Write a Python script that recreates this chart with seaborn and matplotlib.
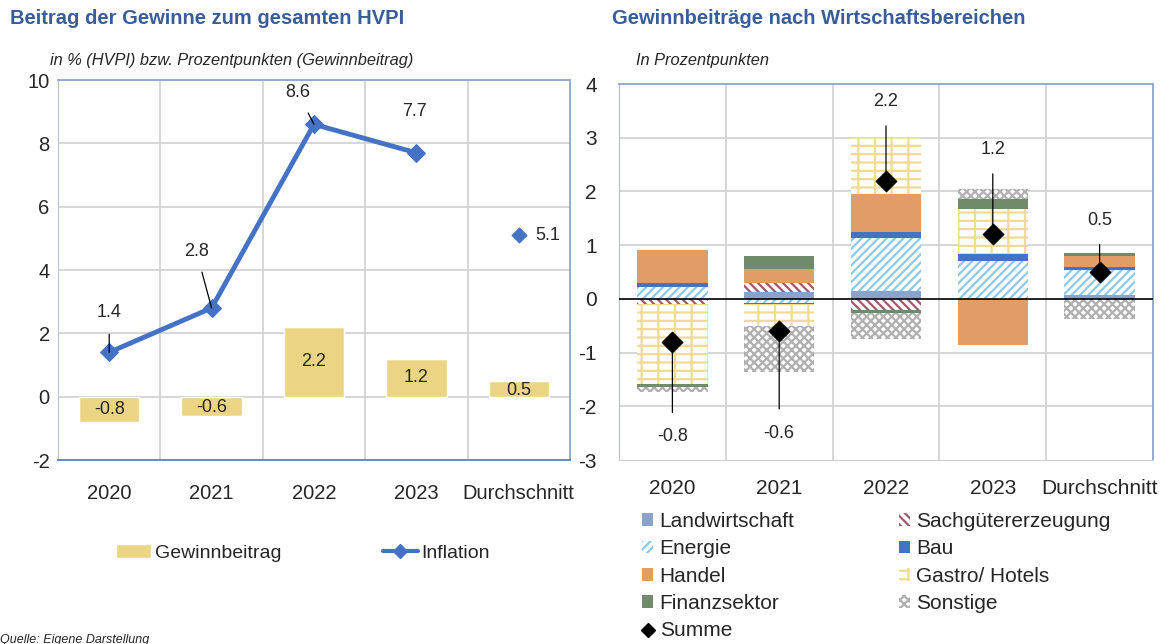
import numpy as np
import matplotlib
matplotlib.use("Agg")
import matplotlib.pyplot as plt
from matplotlib.patches import Patch
from matplotlib.lines import Line2D
import seaborn as sns

# Daten links
jahre = ["2020", "2021", "2022", "2023", "Durchschnitt"]
gewinnbeitrag = [-0.8, -0.6, 2.2, 1.2, 0.5]
inflation = [1.4, 2.8, 8.6, 7.7]
inflation_schnitt = 5.1

# Daten rechts (Prozentpunkte)
landwirtschaft = [0.0, 0.13, 0.15, 0.0, 0.07]
sachgueter = [-0.09, 0.17, -0.20, 0.0, -0.02]
energie = [0.22, -0.07, 0.99, 0.70, 0.46]
bau = [0.08, -0.03, 0.11, 0.14, 0.06]
handel = [0.61, 0.26, 0.70, -0.85, 0.20]
gastro = [-1.49, -0.40, 1.05, 0.84, 0.0]
finanz = [-0.06, 0.23, -0.06, 0.17, 0.06]
sonstige = [-0.10, -0.87, -0.49, 0.19, -0.35]
summe = [-0.8, -0.6, 2.2, 1.2, 0.5]

sns.set_style("white")
plt.rcParams['font.family'] = ['Liberation Sans', 'DejaVu Sans']
plt.rcParams['hatch.linewidth'] = 1.6
plt.rcParams['axes.unicode_minus'] = False

fig = plt.figure(figsize=(11.66, 6.44), dpi=100)

titel_farbe = "#385D9A"
gitter = "#D0D0D0"
rahmen = "#8EA5CF"

fig.text(10 / 1166, 1 - 18 / 644, "Beitrag der Gewinne zum gesamten HVPI",
         fontsize=14.5, fontweight="bold", color=titel_farbe, va="center")
fig.text(612 / 1166, 1 - 18 / 644, "Gewinnbeiträge nach Wirtschaftsbereichen",
         fontsize=14.5, fontweight="bold", color=titel_farbe, va="center")
fig.text(50 / 1166, 1 - 60 / 644, "in % (HVPI) bzw. Prozentpunkten (Gewinnbeitrag)",
         fontsize=11.8, style="italic", va="center")
fig.text(636 / 1166, 1 - 60 / 644, "In Prozentpunkten",
         fontsize=11.8, style="italic", va="center")
fig.text(0, 4 / 644, "Quelle: Eigene Darstellung", fontsize=9, style="italic", va="center")

# ---------- linkes Diagramm ----------
ax1 = fig.add_axes([58 / 1166, 1 - 460 / 644, 512 / 1166, 380 / 644])
x = np.arange(len(jahre))
sns.barplot(x=x, y=gewinnbeitrag, color="#EBD585", saturation=1, width=0.59,
            ax=ax1, zorder=2, native_scale=True)
sns.lineplot(x=x[:4], y=inflation, color="#4472C4", lw=3.5, marker="D",
             markersize=9, markeredgecolor="#4472C4", ax=ax1, zorder=3)
sns.scatterplot(x=[x[4]], y=[inflation_schnitt], marker="D", s=60, color="#4472C4",
                edgecolor="#4472C4", ax=ax1, zorder=3)

for xi, v in zip(x, gewinnbeitrag):
    ax1.text(xi, v / 2 if abs(v) > 0.6 else v / 2 - 0.05, f"{v:.1f}",
             ha="center", va="center", fontsize=13)

inf_lab = [(0, 2.65), (0.85, 4.6), (1.84, 9.6), (2.98, 9.0)]
for xi, v, (tx, ty) in zip(x[:4], inflation, inf_lab):
    ax1.annotate(f"{v:.1f}", xy=(xi, v), xytext=(tx, ty), ha="center", va="center",
                 fontsize=13,
                 arrowprops=dict(arrowstyle="-", color="black", lw=0.9,
                                 shrinkA=7, shrinkB=0) if xi < 3 else None)
ax1.text(4.28, inflation_schnitt, f"{inflation_schnitt:.1f}", ha="center",
         va="center", fontsize=13)

ax1.set_xlim(-0.5, 4.5)
ax1.set_ylim(-2, 10)
ax1.set_yticks(range(-2, 11, 2))
ax1.set_xticks(x)
ax1.set_xticklabels(jahre)
ax1.tick_params(axis="both", labelsize=14.5, length=0)
ax1.tick_params(axis="x", pad=17)
ax1.tick_params(axis="y", pad=6)
ax1.grid(False)
for yv in range(0, 11, 2):
    ax1.axhline(yv, color=gitter, lw=1.2, zorder=0)
for xv in [0.5, 1.5, 2.5, 3.5]:
    ax1.axvline(xv, color=gitter, lw=1.2, zorder=0)
for s in ["top", "right", "bottom"]:
    ax1.spines[s].set_color(rahmen)
    ax1.spines[s].set_linewidth(1.3)
ax1.spines["bottom"].set_color("#5B82C8")
ax1.spines["left"].set_color("#B8C4D8")
ax1.set_xlabel("")
ax1.set_ylabel("")

fig.legend(handles=[Patch(facecolor="#EBD585", label="Gewinnbeitrag"),
                    Line2D([], [], color="#4472C4", lw=3, marker="D", markersize=7,
                           label="Inflation")],
           loc="center", bbox_to_anchor=(303 / 1166, 1 - 553 / 644), ncol=2,
           frameon=False, fontsize=14, handlelength=1.8, columnspacing=5.2,
           handletextpad=0.2)

# ---------- rechtes Diagramm ----------
ax2 = fig.add_axes([619 / 1166, 1 - 460 / 644, 534 / 1166, 376 / 644])

sektoren = [
    ("Landwirtschaft", landwirtschaft, dict(facecolor="#8BA3C9", edgecolor="none")),
    ("Sachgütererzeugung", sachgueter, dict(facecolor="white", edgecolor="#9B5C6B", hatch="\\\\\\\\")),
    ("Energie", energie, dict(facecolor="white", edgecolor="#8CC9F0", hatch="////")),
    ("Bau", bau, dict(facecolor="#4472C4", edgecolor="none")),
    ("Handel", handel, dict(facecolor="#E09E66", edgecolor="none")),
    ("Gastro/ Hotels", gastro, dict(facecolor="white", edgecolor="#F0DB92", hatch="--|")),
    ("Finanzsektor", finanz, dict(facecolor="#6F8B6A", edgecolor="none")),
    ("Sonstige", sonstige, dict(facecolor="white", edgecolor="#B0B0B0", hatch="xxxx")),
]

pos_basis = np.zeros(len(jahre))
neg_basis = np.zeros(len(jahre))
handles = {}
for name, werte, stil in sektoren:
    w = np.array(werte)
    basis = np.where(w >= 0, pos_basis, neg_basis)
    ax2.bar(x, w, bottom=basis, width=0.66, linewidth=0, zorder=2, **stil)
    pos_basis += np.where(w > 0, w, 0)
    neg_basis += np.where(w < 0, w, 0)
    handles[name] = Patch(label=name, linewidth=0, **stil)

ax2.axhline(0, color="black", lw=1.2, zorder=3)
sns.scatterplot(x=x, y=summe, marker="D", s=110, color="black", edgecolor="black",
                ax=ax2, zorder=4)
summe_lab = [-2.57, -2.5, 3.67, 2.78, 1.46]
for xi, v, ty in zip(x, summe, summe_lab):
    ax2.annotate(f"{v:.1f}", xy=(xi, v), xytext=(xi, ty), ha="center", va="center",
                 fontsize=13,
                 arrowprops=dict(arrowstyle="-", color="black", lw=0.9,
                                 shrinkA=9, shrinkB=0))

ax2.set_xlim(-0.5, 4.5)
ax2.set_ylim(-3, 4)
ax2.set_yticks(range(-3, 5))
ax2.set_xticks(x)
ax2.set_xticklabels(jahre)
ax2.tick_params(axis="both", labelsize=15, length=0)
ax2.tick_params(axis="x", pad=14)
ax2.tick_params(axis="y", pad=16)
ax2.grid(False)
for yv in range(-2, 4):
    if yv != 0:
        ax2.axhline(yv, color=gitter, lw=1.2, zorder=0)
for xv in [0.5, 1.5, 2.5, 3.5]:
    ax2.axvline(xv, color=gitter, lw=1.2, zorder=0)
ax2.spines["left"].set_color("#B8BCC4")
ax2.spines["bottom"].set_color(gitter)
for s in ["top", "right"]:
    ax2.spines[s].set_color(rahmen)
    ax2.spines[s].set_linewidth(1.3)

reihenfolge = ["Landwirtschaft", "Energie", "Handel", "Finanzsektor"]
rechts = ["Sachgütererzeugung", "Bau", "Gastro/ Hotels", "Sonstige"]
leg_handles = [handles[n] for n in reihenfolge]
leg_handles.append(Line2D([], [], color="black", lw=0, marker="D", markersize=7,
                          label="Summe"))
leg_handles += [handles[n] for n in rechts]
fig.legend(handles=leg_handles, loc="upper left",
           bbox_to_anchor=(642 / 1166, 1 - 512 / 644), ncol=2, frameon=False,
           fontsize=15, handlelength=0.55, handleheight=0.55, handletextpad=0.3,
           columnspacing=5.0, labelspacing=0.4, borderpad=0, borderaxespad=0)

fig.savefig("out.png", dpi=100)
